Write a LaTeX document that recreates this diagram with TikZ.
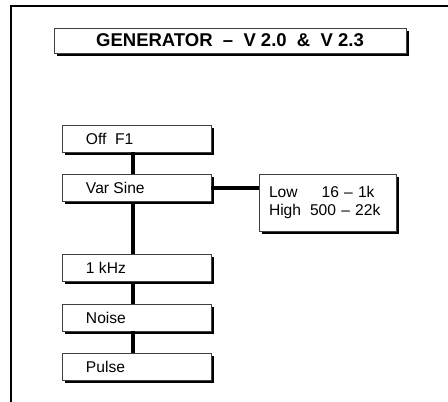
\documentclass[tikz,border=0pt]{standalone}
\usepackage{fontspec}
\setmainfont{Liberation Sans}
\usetikzlibrary{shadows}
\begin{document}
\begin{tikzpicture}[x=1pt, y=-1pt]
    % Styles
    \tikzstyle{menu} = [draw=black!75, line width=0.8pt, fill=white, rectangle, inner ysep=0pt, drop shadow={shadow xshift=2.6pt, shadow yshift=-2.6pt, fill=black, opacity=1}]
    \tikzstyle{item} = [menu, minimum height=27pt, minimum width=149pt, inner xsep=0pt, font=\fontsize{15.6}{18}\selectfont]
    \tikzstyle{link} = [line width=4pt]
    \newcommand{\entry}[1]{\hspace*{24pt}\makebox[125pt][l]{#1}}
    \useasboundingbox (0,0) rectangle (448,402);

    % Frame
    \draw[line width=2.5pt] (11,402) -- (11,6) -- (448,6);

    % Nodes
    \node[menu, minimum width=352pt, minimum height=25pt, font=\bfseries\fontsize{18.5}{20}\selectfont] (title) at (230,40.5) {GENERATOR\ \ --\ \ V 2.0\ \ \&\ \ V 2.3};
    \node[item] (off) at (136.5,138.5) {\entry{Off\ \ F1}};
    \node[item] (sine) at (136.5,188) {\entry{Var Sine}};
    \node[item] (khz) at (136.5,268) {\entry{1 kHz}};
    \node[item] (noise) at (136.5,317.5) {\entry{Noise}};
    \node[item] (pulse) at (136.5,366.5) {\entry{Pulse}};
    \node[menu, minimum height=57pt, inner xsep=10pt, text width=117pt, align=left, font=\fontsize{15.6}{18}\selectfont] (range) at (327.5,202.5) {Low\hspace{24pt}16 -- 1k\\High\hspace{9pt}500 -- 22k};

    % Links
    \draw[link] ([xshift=-3.5pt]off.south) -- ([xshift=-3.5pt]sine.north);
    \draw[link] ([xshift=-3.5pt]sine.south) -- ([xshift=-3.5pt]khz.north);
    \draw[link] ([xshift=-3.5pt]khz.south) -- ([xshift=-3.5pt]noise.north);
    \draw[link] ([xshift=-3.5pt]noise.south) -- ([xshift=-3.5pt]pulse.north);
    \draw[link] (sine.east) -- (range.west |- sine.east);
\end{tikzpicture}
\end{document}
